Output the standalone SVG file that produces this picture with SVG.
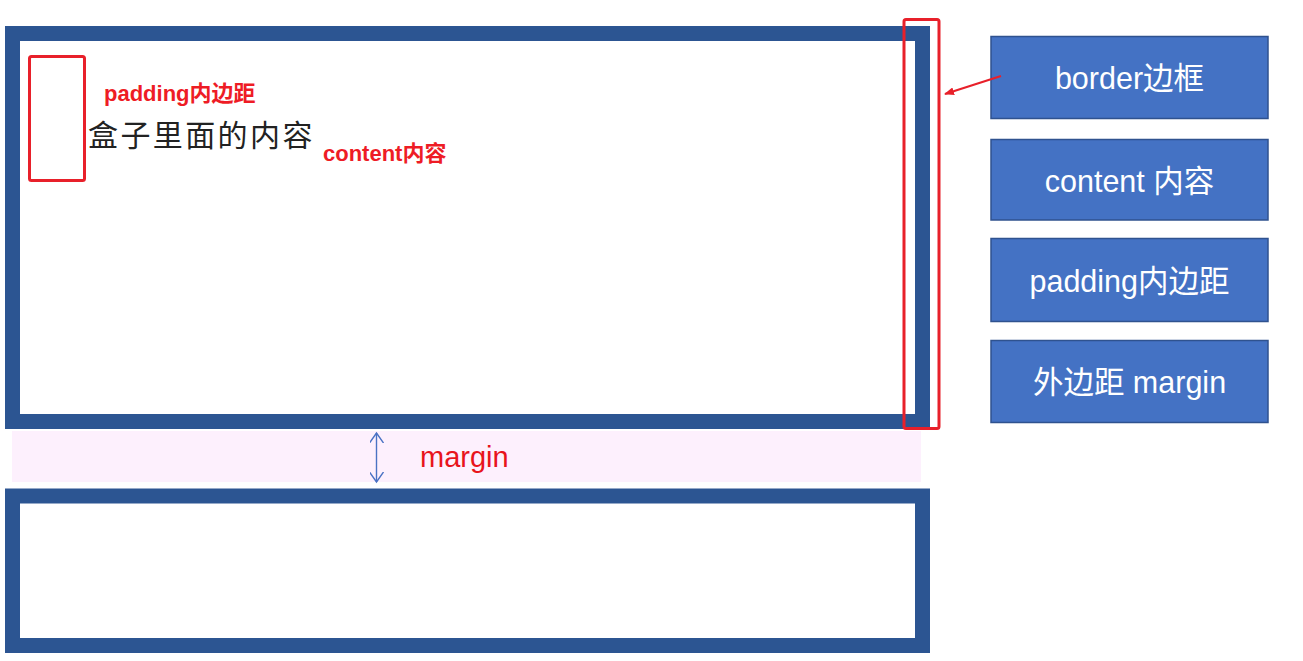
<svg xmlns="http://www.w3.org/2000/svg" width="1303" height="661" viewBox="0 0 1303 661">
<style>
.box{fill:#ffffff;stroke:#2c5592;stroke-width:15}
.red{fill:none;stroke:#e8202a;stroke-width:3}
.btn{fill:#4472c4;stroke:#2f528f;stroke-width:1.5}
.bt{font-family:"Liberation Sans","Noto Sans CJK SC",sans-serif;font-size:30.5px;fill:#ffffff;text-anchor:middle}
.rl{font-family:"Liberation Sans","Noto Sans CJK SC",sans-serif;font-weight:bold;font-size:22px;fill:#ee1c25}
</style>
<defs>
<marker id="ra" markerWidth="10" markerHeight="8" refX="9" refY="4" orient="auto" markerUnits="userSpaceOnUse">
<path d="M0,0 L10,4 L0,8 Z" fill="#e8202a"/>
</marker>
<marker id="ba" markerWidth="12" markerHeight="14" refX="10" refY="7" orient="auto-start-reverse" markerUnits="userSpaceOnUse">
<path d="M0,0 L10,7 L0,14" fill="none" stroke="#4a72c4" stroke-width="1.4"/>
</marker>
</defs>
<rect x="0" y="0" width="1303" height="661" fill="#ffffff"/>
<rect x="12" y="431" width="909" height="51" fill="#fdf0fd"/>
<g id="outer-box">
<rect class="box" x="12.5" y="33.5" width="910" height="388"/>
</g>
<g id="lower-box">
<rect class="box" x="12.5" y="496" width="910" height="149.5"/>
</g>
<g id="content-text">
<text x="88" y="146" font-family="'Liberation Sans','Noto Sans CJK SC',sans-serif" font-size="30" letter-spacing="2.4" fill="#222222">盒子里面的内容</text>
</g>
<g id="padding-mark">
<rect class="red" x="29.5" y="56.5" width="55" height="124" rx="2"/>
<text class="rl" x="104" y="101">padding内边距</text>
</g>
<g id="content-label">
<text class="rl" x="323" y="161">content内容</text>
</g>
<g id="border-mark">
<rect class="red" x="904" y="19.5" width="35" height="409" rx="2"/>
</g>
<g id="margin-label">
<text x="420" y="467" font-family="'Liberation Sans',sans-serif" font-size="29" fill="#e8141c">margin</text>
</g>
<g id="btn-border">
<rect class="btn" x="991" y="36.5" width="277" height="82"/>
<text class="bt" x="1129.5" y="89">border边框</text>
</g>
<g id="btn-content">
<rect class="btn" x="991" y="139.5" width="277" height="80.5"/>
<text class="bt" x="1129.5" y="192">content 内容</text>
</g>
<g id="btn-padding">
<rect class="btn" x="991" y="238.5" width="277" height="83"/>
<text class="bt" x="1129.5" y="292">padding内边距</text>
</g>
<g id="btn-margin">
<rect class="btn" x="991" y="340.5" width="277" height="82"/>
<text class="bt" x="1129.5" y="393">外边距 margin</text>
</g>
<g id="connectors">
<line x1="1001" y1="76" x2="945" y2="94" stroke="#e8202a" stroke-width="2.2" marker-end="url(#ra)"/>
<line x1="376.5" y1="433" x2="376.5" y2="482" stroke="#4a72c4" stroke-width="1.4" marker-start="url(#ba)" marker-end="url(#ba)"/>
</g>
</svg>
